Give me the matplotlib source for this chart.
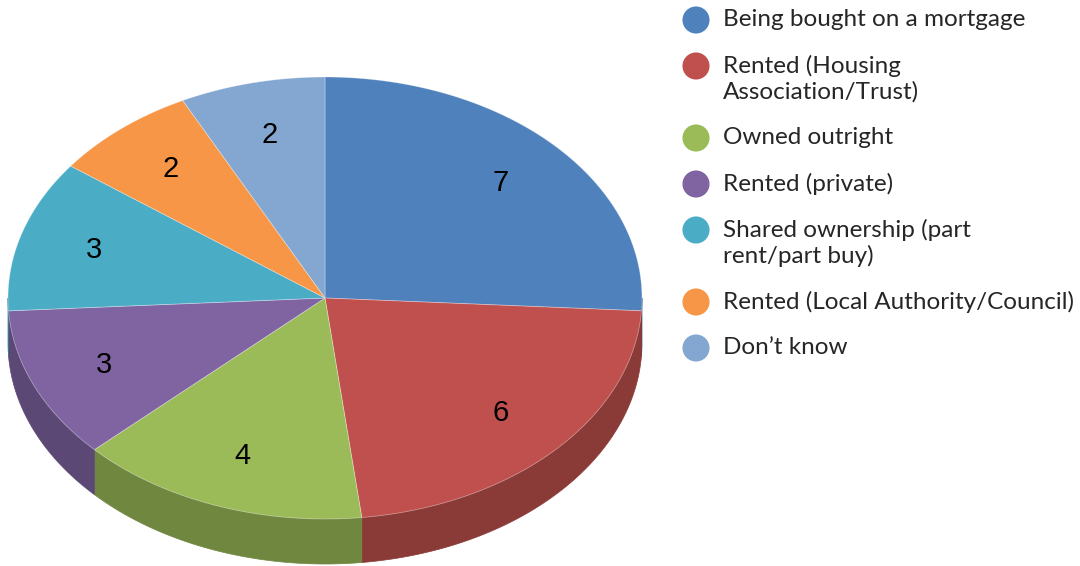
import numpy as np
import matplotlib
matplotlib.use("Agg")
import matplotlib.pyplot as plt
from matplotlib.patches import Polygon
from matplotlib.colors import to_rgb

# ---- data ----
categories = ["Being bought on a mortgage",
              "Rented (Housing\nAssociation/Trust)",
              "Owned outright",
              "Rented (private)",
              "Shared ownership (part\nrent/part buy)",
              "Rented (Local Authority/Council)",
              "Don\u2019t know"]
values = [7, 6, 4, 3, 3, 2, 2]
colors = ["#4F81BD", "#C0504D", "#9BBB59", "#8064A2", "#4BACC6", "#F79646", "#84A7D1"]

# ---- layout (pixels) ----
W, H = 1080, 566
cx, cy = 325, 298
rx, ry = 317, 221
depth = 45
label_frac = 0.76

fig = plt.figure(figsize=(W / 100, H / 100), dpi=100)
ax = fig.add_axes([0, 0, 1, 1])
ax.set_xlim(0, W)
ax.set_ylim(H, 0)
ax.axis("off")

total = sum(values)
angles = np.cumsum([0] + values) / total * 360.0  # clockwise from 12 o'clock


def pt(theta, dy=0.0):
    t = np.radians(theta)
    return cx + rx * np.sin(t), cy - ry * np.cos(t) + dy


def darker(c, f=0.72):
    r, g, b = to_rgb(c)
    return (r * f, g * f, b * f)


# side walls (front half: 90..270 degrees)
for a, b, c in zip(angles[:-1], angles[1:], colors):
    lo, hi = max(a, 90), min(b, 270)
    if hi <= lo:
        continue
    th = np.linspace(lo, hi, 100)
    top = [pt(t) for t in th]
    bot = [pt(t, depth) for t in th[::-1]]
    ax.add_patch(Polygon(top + bot, closed=True, facecolor=darker(c),
                         edgecolor=darker(c), linewidth=0.5, zorder=1))

# top faces
for a, b, c in zip(angles[:-1], angles[1:], colors):
    th = np.linspace(a, b, 200)
    poly = [(cx, cy)] + [pt(t) for t in th]
    ax.add_patch(Polygon(poly, closed=True, facecolor=c,
                         edgecolor=(1, 1, 1, 0.35), linewidth=0.6, zorder=2))

# value labels
for a, b, v in zip(angles[:-1], angles[1:], values):
    m = np.radians((a + b) / 2)
    x = cx + rx * label_frac * np.sin(m)
    y = cy - ry * label_frac * np.cos(m)
    ax.text(x, y, str(v), ha="center", va="center", fontsize=21,
            family=["Liberation Sans", "DejaVu Sans"], color="black", zorder=3)

# legend
mx, tx = 696, 723
y = 20
for cat, c in zip(categories, colors):
    ax.scatter([mx], [y], s=380, color=c, edgecolors="none", zorder=3)
    lines = cat.split("\n")
    for i, ln in enumerate(lines):
        ax.text(tx, y + i * 26, ln, ha="left", va="center", fontsize=17.5,
                family=["Lato", "DejaVu Sans"], color="#262626")
    y += 46 + 26 * (len(lines) - 1)

fig.savefig("out.png", dpi=100)
